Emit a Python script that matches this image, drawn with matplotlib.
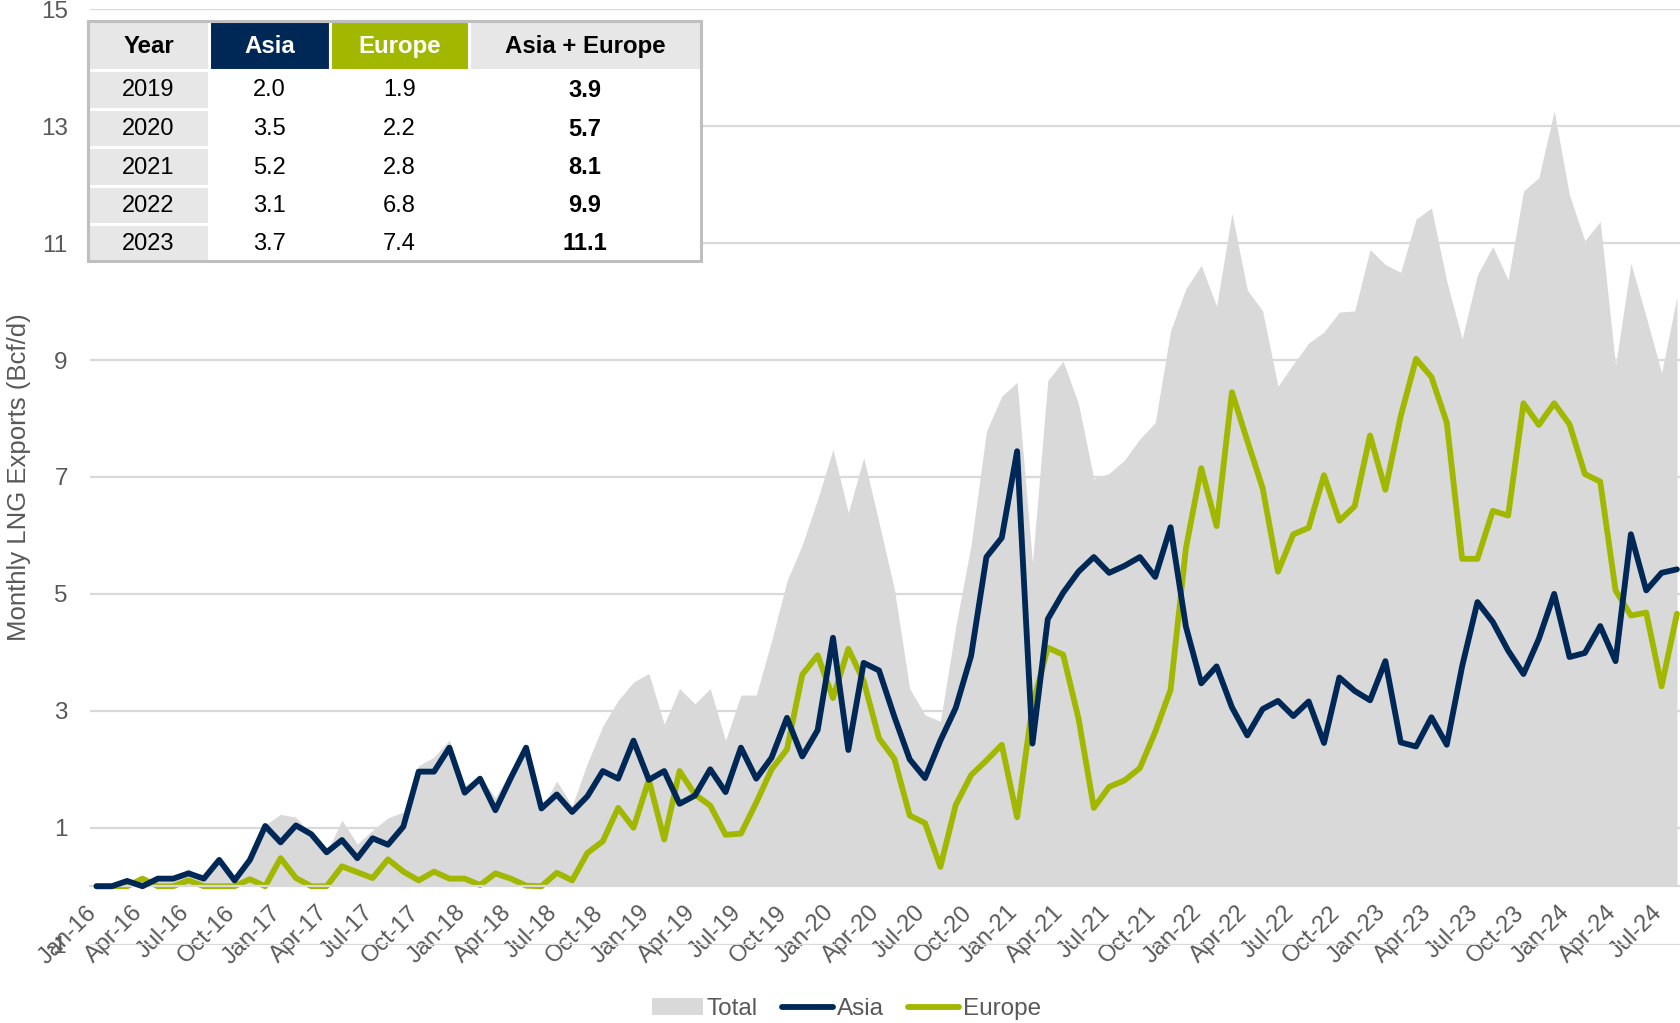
import matplotlib
matplotlib.use("Agg")
import matplotlib.pyplot as plt
import matplotlib.transforms as mtrans
from matplotlib.patches import Rectangle, Patch
from matplotlib.lines import Line2D
import numpy as np
import pandas as pd

plt.rcParams["font.family"] = ["Liberation Sans", "DejaVu Sans"]
plt.rcParams["axes.unicode_minus"] = False

# monthly LNG exports (Bcf/d), Jan-16 .. Aug-24
asia = [0.0, 0.0, 0.09, 0.0, 0.13, 0.13, 0.22, 0.13, 0.45, 0.1, 0.45, 1.03,
        0.75, 1.04, 0.89, 0.58, 0.79, 0.48, 0.82, 0.71, 1.02, 1.96, 1.96, 2.37,
        1.6, 1.84, 1.3, 1.85, 2.37, 1.33, 1.57, 1.27, 1.54, 1.97, 1.84, 2.49,
        1.82, 1.97, 1.41, 1.55, 2.0, 1.61, 2.37, 1.84, 2.2, 2.88, 2.22, 2.67,
        4.25, 2.33, 3.82, 3.69, 2.9, 2.17, 1.85, 2.49, 3.05, 3.94, 5.63, 5.96,
        7.44, 2.44, 4.57, 5.02, 5.38, 5.63, 5.36, 5.48, 5.63, 5.29, 6.14, 4.44,
        3.47, 3.76, 3.06, 2.58, 3.03, 3.17, 2.91, 3.16, 2.45, 3.57, 3.34, 3.18,
        3.85, 2.46, 2.39, 2.89, 2.42, 3.76, 4.86, 4.52, 4.03, 3.63, 4.23, 5.0,
        3.92, 3.99, 4.45, 3.85, 6.02, 5.06, 5.36, 5.42]
europe = [0.0, 0.0, 0.0, 0.13, 0.0, 0.0, 0.1, 0.0, 0.0, 0.0, 0.12, 0.0,
          0.48, 0.14, 0.0, 0.0, 0.34, 0.24, 0.14, 0.46, 0.25, 0.1, 0.25, 0.13,
          0.13, 0.02, 0.22, 0.13, 0.01, 0.0, 0.23, 0.1, 0.57, 0.77, 1.34, 1.0,
          1.82, 0.8, 1.97, 1.57, 1.38, 0.88, 0.9, 1.43, 2.0, 2.34, 3.62, 3.95,
          3.22, 4.06, 3.51, 2.53, 2.18, 1.21, 1.08, 0.33, 1.39, 1.9, 2.15, 2.42,
          1.18, 3.09, 4.08, 3.96, 2.87, 1.34, 1.7, 1.81, 2.02, 2.64, 3.36, 5.78,
          7.15, 6.16, 8.45, 7.62, 6.81, 5.38, 6.02, 6.13, 7.03, 6.25, 6.5, 7.71,
          6.78, 8.04, 9.02, 8.71, 7.93, 5.6, 5.6, 6.42, 6.34, 8.26, 7.89, 8.26,
          7.9, 7.05, 6.92, 5.06, 4.63, 4.68, 3.42, 4.66]
total = [0.0, 0.0, 0.09, 0.13, 0.13, 0.13, 0.3, 0.13, 0.45, 0.1, 0.57, 1.05,
         1.23, 1.18, 0.89, 0.58, 1.13, 0.72, 0.96, 1.17, 1.27, 2.06, 2.21, 2.5,
         1.73, 1.86, 1.52, 1.98, 2.38, 1.33, 1.8, 1.37, 2.11, 2.74, 3.18, 3.49,
         3.64, 2.77, 3.38, 3.12, 3.38, 2.49, 3.27, 3.27, 4.2, 5.22, 5.84, 6.62,
         7.47, 6.39, 7.33, 6.22, 5.08, 3.38, 2.93, 2.82, 4.44, 5.84, 7.78, 8.38,
         8.62, 5.53, 8.65, 8.98, 8.25, 6.97, 7.06, 7.29, 7.65, 7.93, 9.5, 10.22,
         10.62, 9.92, 11.51, 10.2, 9.84, 8.55, 8.93, 9.29, 9.48, 9.82, 9.84, 10.89,
         10.63, 10.5, 11.41, 11.6, 10.35, 9.36, 10.46, 10.94, 10.37, 11.89, 12.12, 13.26,
         11.82, 11.04, 11.37, 8.91, 10.65, 9.74, 8.78, 10.08]

# inset table: annual averages
tbl_years = ["2019", "2020", "2021", "2022", "2023"]
tbl_asia = ["2.0", "3.5", "5.2", "3.1", "3.7"]
tbl_europe = ["1.9", "2.2", "2.8", "6.8", "7.4"]
tbl_total = ["3.9", "5.7", "8.1", "9.9", "11.1"]

NAVY = "#002856"
GREEN = "#a2b700"
GREY = "#d9d9d9"
TXT = "#595959"
LW = 4.2

months = pd.date_range("2016-01-01", periods=len(asia), freq="MS")
x = np.arange(len(asia))

W, H = 1680, 1023
fig = plt.figure(figsize=(W / 100, H / 100), dpi=100)
ax = fig.add_axes([90 / W, 1 - 944.7 / H, (W - 90) / W, (944.7 - 9.2) / H])

ax.fill_between(x, 0, total, color=GREY, linewidth=0, zorder=1)
ax.plot(x, asia, color=NAVY, lw=LW, solid_joinstyle="round",
        solid_capstyle="round", zorder=3)
ax.plot(x, europe, color=GREEN, lw=LW, solid_joinstyle="round",
        solid_capstyle="round", zorder=2)

# move the category axis to y=0 before styling ticks (this resets them)
for s in ["top", "right", "left"]:
    ax.spines[s].set_visible(False)
ax.spines["bottom"].set_position(("data", 0))
ax.spines["bottom"].set_color(GREY)
ax.spines["bottom"].set_linewidth(1.6)

ax.set_xlim(-0.42, len(asia) - 1 + 0.2)
ax.set_ylim(-1, 15)
ax.set_yticks(np.arange(-1, 16, 2))
ax.set_axisbelow(True)
ax.grid(axis="y", color=GREY, lw=1.6)

tick_idx = x[::3]
ax.set_xticks(tick_idx)
ax.set_xticklabels([months[i].strftime("%b-%y") for i in tick_idx])
ax.tick_params(axis="x", length=0, pad=11, labelsize=17, labelcolor=TXT,
               labelrotation=45)
shift = mtrans.ScaledTranslation(5 / 100, 0, fig.dpi_scale_trans)
for lab in ax.get_xticklabels():
    lab.set_ha("right")
    lab.set_va("top")
    lab.set_transform(lab.get_transform() + shift)
ax.tick_params(axis="y", length=0, pad=16, labelsize=17.5, labelcolor=TXT)

fig.text(19 / W, 1 - 477 / H, "Monthly LNG Exports (Bcf/d)", rotation=90,
         ha="center", va="center", fontsize=18.5, color=TXT)

handles = [Patch(facecolor=GREY, edgecolor="none"),
           Line2D([], [], color=NAVY, lw=LW, solid_capstyle="round"),
           Line2D([], [], color=GREEN, lw=LW, solid_capstyle="round")]
fig.legend(handles, ["Total", "Asia", "Europe"], loc="center",
           bbox_to_anchor=(0.504, 1 - 1009 / H), ncol=3, frameon=False,
           fontsize=17.5, handlelength=2.1, handleheight=0.7,
           handletextpad=0.15, columnspacing=1.0, labelcolor=TXT)

# ---- inset table (pixel units) ----
tx0, ty0, tx1, ty1 = 88, 21, 701, 261
tab = fig.add_axes([tx0 / W, 1 - ty1 / H, (tx1 - tx0) / W, (ty1 - ty0) / H])
tab.set_xlim(0, tx1 - tx0)
tab.set_ylim(ty1 - ty0, 0)
tab.axis("off")

col_edges = [0, 121, 242, 381, 613]
row_edges = [0, 49, 88, 126, 165, 203, 240]
LIGHT = "#e7e7e7"
tab.add_patch(Rectangle((0, 0), 613, 240, facecolor="white", edgecolor="none"))

header = ["Year", "Asia", "Europe", "Asia + Europe"]
head_bg = [LIGHT, NAVY, GREEN, LIGHT]
head_fg = ["black", "white", "white", "black"]
for j in range(4):
    x0, x1 = col_edges[j], col_edges[j + 1]
    tab.add_patch(Rectangle((x0, 0), x1 - x0, row_edges[1], facecolor=head_bg[j],
                            edgecolor="white", lw=2.2))
    tab.text((x0 + x1) / 2, row_edges[1] / 2 + 1, header[j], ha="center",
             va="center", fontsize=17.3, fontweight="bold", color=head_fg[j])

cols = [tbl_years, tbl_asia, tbl_europe, tbl_total]
for i in range(len(tbl_years)):
    y0, y1 = row_edges[i + 1], row_edges[i + 2]
    tab.add_patch(Rectangle((0, y0), col_edges[1], y1 - y0, facecolor=LIGHT,
                            edgecolor="white", lw=2.2))
    for j in range(4):
        x0, x1 = col_edges[j], col_edges[j + 1]
        tab.text((x0 + x1) / 2, (y0 + y1) / 2 + 1, cols[j][i], ha="center",
                 va="center", fontsize=17, color="black",
                 fontweight="bold" if j == 3 else "normal")

tab.add_patch(Rectangle((0, 0), 613, 240, facecolor="none", edgecolor="#bfbfbf",
                        lw=2.2, clip_on=False))

fig.savefig("out.png", dpi=100)
